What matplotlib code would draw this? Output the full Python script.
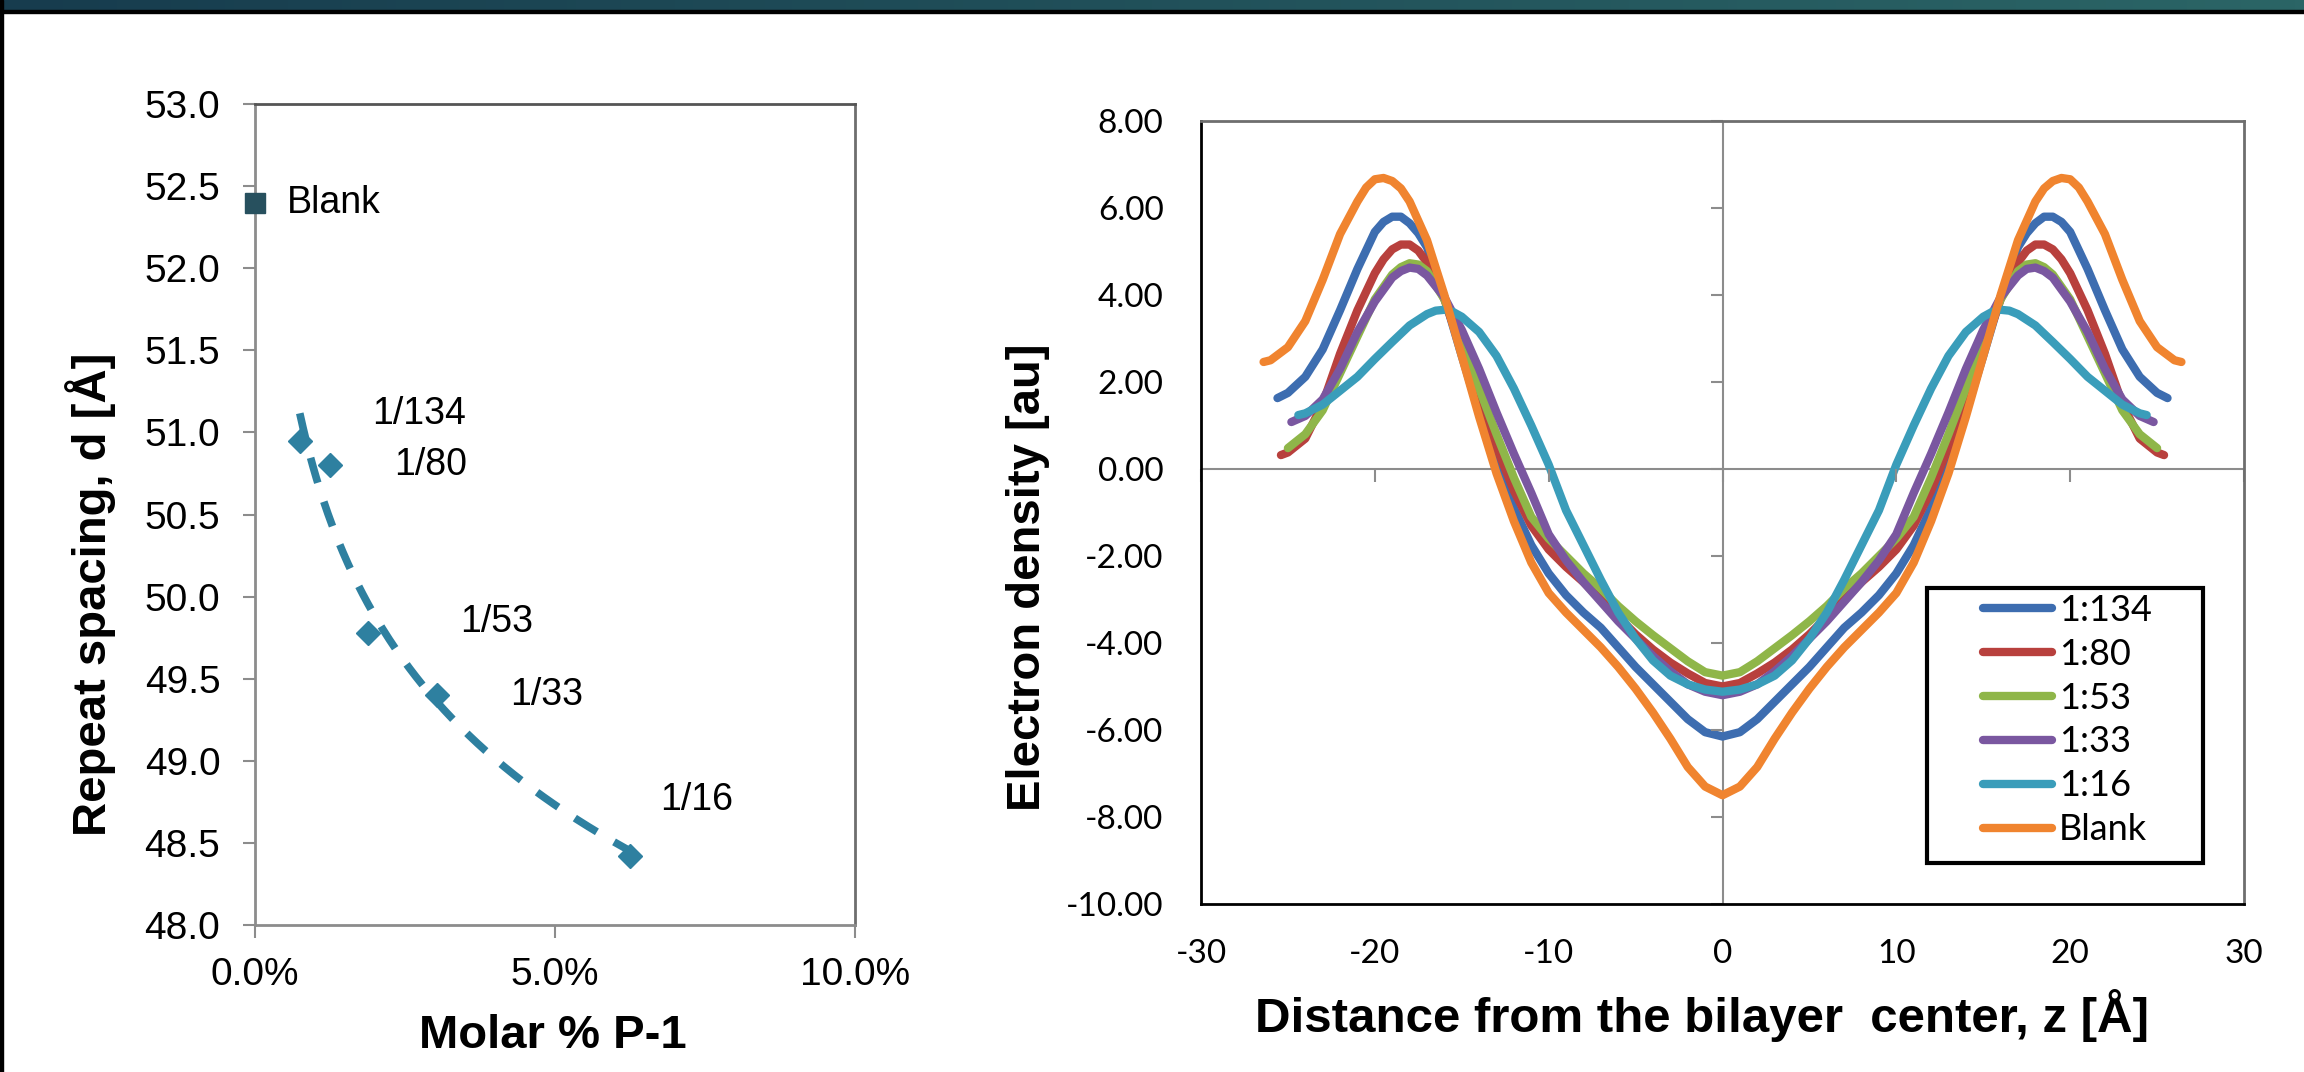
import numpy as np
import matplotlib.pyplot as plt
from matplotlib import markers
from matplotlib.patches import Rectangle
from matplotlib.colors import LinearSegmentedColormap
from matplotlib.ticker import PercentFormatter, FormatStrFormatter

plt.rcParams['axes.unicode_minus'] = False

# ---- left panel: repeat spacing vs molar % of P-1
ratio_labels = ['1/134', '1/80', '1/53', '1/33', '1/16']
molar_frac = [1 / 134, 1 / 80, 1 / 53, 1 / 33, 1 / 16]
d_spacing = [50.95, 50.80, 49.78, 49.40, 48.42]
blank_frac = 0.0
blank_d = 52.40
# label offsets from each point (points)
label_offsets = [(52, 19), (46, 0), (66, 8), (53, 0), (22, 40)]

# ---- right panel: electron density profiles (half profiles, z >= 0, mirrored)
series_names = ['1:134', '1:80', '1:53', '1:33', '1:16', 'Blank']
z_134 = list(range(0, 18)) + [17.5, 18, 18.5, 19, 19.5, 20, 21, 22, 23, 24, 25, 25.6]
z_134 = sorted(set(z_134))
rho_134 = [-6.15, -6.05, -5.75, -5.35, -4.95, -4.55, -4.1, -3.65, -3.3, -2.9,
           -2.4, -1.75, -0.9, 0.1, 1.3, 2.6, 3.95, 5.1, 5.42, 5.65, 5.8, 5.8,
           5.68, 5.45, 4.6, 3.65, 2.75, 2.12, 1.75, 1.63]
z_80 = sorted(set(list(range(0, 18)) + [17.5, 18, 18.5, 19, 19.5, 20, 21, 22, 23, 24, 25, 25.4]))
rho_80 = [-5.0, -4.92, -4.7, -4.45, -4.15, -3.8, -3.4, -3.0, -2.6, -2.25,
          -1.85, -1.3, -0.5, 0.5, 1.6, 2.75, 3.9, 4.75, 5.02, 5.16, 5.16, 5.05,
          4.82, 4.5, 3.65, 2.65, 1.5, 0.7, 0.38, 0.32]
z_53 = sorted(set(list(range(0, 18)) + [17.5, 18, 18.5, 19, 20, 21, 22, 23, 24, 25]))
rho_53 = [-4.75, -4.67, -4.42, -4.12, -3.82, -3.5, -3.15, -2.75, -2.4, -2.0,
          -1.6, -1.1, -0.2, 0.8, 1.85, 2.9, 3.9, 4.55, 4.7, 4.73, 4.64, 4.47,
          3.9, 3.05, 2.2, 1.35, 0.8, 0.48]
z_33 = sorted(set(list(range(0, 18)) + [17.5, 18, 18.5, 19, 20, 21, 22, 23, 24, 24.8]))
rho_33 = [-5.2, -5.12, -4.95, -4.65, -4.3, -3.9, -3.5, -3.05, -2.6, -2.1,
          -1.5, -0.55, 0.35, 1.3, 2.3, 3.2, 3.95, 4.45, 4.6, 4.63, 4.55, 4.4,
          3.85, 3.15, 2.3, 1.6, 1.22, 1.08]
z_16 = sorted(set(list(range(0, 16)) + [15.5, 16, 16.5, 17, 18, 19, 20, 21, 22, 23, 24, 24.4]))
rho_16 = [-5.12, -5.07, -4.95, -4.75, -4.4, -3.9, -3.3, -2.55, -1.75, -0.95,
          0.1, 1.0, 1.85, 2.6, 3.15, 3.5, 3.61, 3.66, 3.64, 3.56, 3.3, 2.92,
          2.53, 2.12, 1.8, 1.48, 1.28, 1.24]
z_blank = sorted(set(list(range(0, 19)) + [18.5, 19, 19.5, 20, 20.5, 21, 22, 23, 24, 25, 26, 26.4]))
rho_blank = [-7.5, -7.3, -6.85, -6.2, -5.6, -5.05, -4.55, -4.1, -3.7, -3.3,
             -2.85, -2.15, -1.2, -0.1, 1.2, 2.6, 4.0, 5.26, 6.15, 6.45, 6.62,
             6.69, 6.66, 6.47, 6.15, 5.4, 4.35, 3.4, 2.8, 2.5, 2.46]

series_colors = ['#3d6db0', '#b8403d', '#8fb649', '#7a57a0', '#3a9dba', '#f0842f']

W, H = 2304, 1072


def px_box(x0, y0, x1, y1):
    return [x0 / W, 1 - y1 / H, (x1 - x0) / W, (y1 - y0) / H]


fig = plt.figure(figsize=(W / 100, H / 100), dpi=100)

# slide header strip and borders
hdr = fig.add_axes(px_box(0, 0, W, 10))
hdr.imshow(np.linspace(0, 1, 256)[None, :], aspect='auto',
           cmap=LinearSegmentedColormap.from_list('hdr', ['#173c4e', '#2b6566']))
hdr.axis('off')
fig.add_artist(Rectangle((0, 1 - 13 / H), 1, 3 / H, color='black', transform=fig.transFigure))
fig.add_artist(Rectangle((0, 0), 3 / W, 1, color='black', transform=fig.transFigure))

# ---------------- left chart
ax1 = fig.add_axes(px_box(255, 104, 855, 925))
teal = '#2e80a0'
coef = np.polyfit(np.log(molar_frac), d_spacing, 1)
xf = np.linspace(min(molar_frac), max(molar_frac), 200)
ax1.plot(xf, np.polyval(coef, np.log(xf)), color=teal, lw=5.5,
         ls=(0, (3.4, 2.6)), solid_capstyle='butt')
ax1.plot(molar_frac, d_spacing, ls='none', marker='D', ms=12, color=teal)
ax1.plot([blank_frac], [blank_d], ls='none', marker='s', ms=14, color='#27505e',
         clip_on=False, zorder=5)
ax1.annotate('Blank', (blank_frac, blank_d), xytext=(23, 0), textcoords='offset points',
             va='center', fontsize=27, family='Liberation Sans')
for lab, x, y, off in zip(ratio_labels, molar_frac, d_spacing, label_offsets):
    ax1.annotate(lab, (x, y), xytext=off, textcoords='offset points',
                 va='center', fontsize=27, family='Liberation Sans')

ax1.set_xlim(0, 0.10)
ax1.set_ylim(48, 53)
ax1.set_xticks([0, 0.05, 0.10])
ax1.xaxis.set_major_formatter(PercentFormatter(1.0, decimals=1))
ax1.set_yticks(np.arange(48, 53.01, 0.5))
ax1.yaxis.set_major_formatter(FormatStrFormatter('%.1f'))
ax1.tick_params(direction='out', length=9, width=1.5, color='#8c8c8c', labelsize=28)
ax1.tick_params(axis='y', pad=16)
ax1.tick_params(axis='x', pad=14)
for lab in ax1.get_xticklabels() + ax1.get_yticklabels():
    lab.set_family('Liberation Sans')
for side, col in [('left', '#8c8c8c'), ('bottom', '#8c8c8c'), ('top', '#555555'), ('right', '#6e6e6e')]:
    ax1.spines[side].set_color(col)
    ax1.spines[side].set_linewidth(2)

fig.text(91 / W, 1 - 594 / H, 'Repeat spacing, d [Å]', rotation=90, ha='center', va='center',
         fontsize=34, fontweight='bold', family='Liberation Sans')
fig.text(553 / W, 1 - 1036 / H, 'Molar % P-1', ha='center', va='center',
         fontsize=34, fontweight='bold', family='Liberation Sans')

# ---------------- right chart
ax2 = fig.add_axes(px_box(1201, 121, 2244, 904))
ax2.axhline(0, color='#8c8c8c', lw=1.5, zorder=1)
ax2.axvline(0, color='#8c8c8c', lw=1.5, zorder=1)

all_z = [z_134, z_80, z_53, z_33, z_16, z_blank]
all_rho = [rho_134, rho_80, rho_53, rho_33, rho_16, rho_blank]
for name, z, rho, col in zip(series_names, all_z, all_rho, series_colors):
    z = np.asarray(z, float)
    rho = np.asarray(rho, float)
    zz = np.concatenate([-z[::-1], z[1:]])
    rr = np.concatenate([rho[::-1], rho[1:]])
    ax2.plot(zz, rr, color=col, lw=6, label=name, solid_capstyle='round',
             solid_joinstyle='round')

ax2.set_xlim(-30, 30)
ax2.set_ylim(-10, 8)
xt = list(range(-30, 31, 10))
yt = list(range(-10, 9, 2))
ax2.set_xticks(xt)
ax2.set_yticks(yt)
ax2.yaxis.set_major_formatter(FormatStrFormatter('%.2f'))
ax2.tick_params(length=0, labelsize=24)
ax2.tick_params(axis='y', pad=27)
ax2.tick_params(axis='x', pad=25)
for lab in ax2.get_xticklabels() + ax2.get_yticklabels():
    lab.set_family('Lato')
# tick marks sitting on the zero axes
ax2.plot(xt, [0] * len(xt), ls='none', marker=markers.TICKDOWN, ms=9, mew=1.5,
         color='#8c8c8c', clip_on=False)
ax2.plot([0] * len(yt), yt, ls='none', marker=markers.TICKLEFT, ms=9, mew=1.5,
         color='#8c8c8c', clip_on=False)
for side, col in [('left', '#000000'), ('bottom', '#000000'), ('top', '#6e6e6e'), ('right', '#6e6e6e')]:
    ax2.spines[side].set_color(col)
    ax2.spines[side].set_linewidth(2)

ax2.add_patch(Rectangle((1927 / W, 1 - 863 / H), 276 / W, 275 / H, transform=fig.transFigure,
                        facecolor='white', edgecolor='black', lw=3, zorder=4.5, clip_on=False))
leg = ax2.legend(loc='upper left', bbox_to_anchor=(1983 / W, 1 - 594 / H),
                 bbox_transform=fig.transFigure, frameon=False, borderpad=0, borderaxespad=0,
                 handlelength=1.9, handletextpad=0.2, labelspacing=0.3,
                 prop={'family': 'Lato', 'size': 26})
leg.set_zorder(6)

fig.text(1028 / W, 1 - 577 / H, 'Electron density [au]', rotation=90, ha='center', va='center',
         fontsize=34, fontweight='bold', family='Liberation Sans')
fig.text(1702 / W, 1 - 1015 / H, 'Distance from the bilayer  center, z [Å]', ha='center', va='center',
         fontsize=35.5, fontweight='bold', family='Liberation Sans')

fig.savefig('out.png', dpi=100, facecolor='white')
